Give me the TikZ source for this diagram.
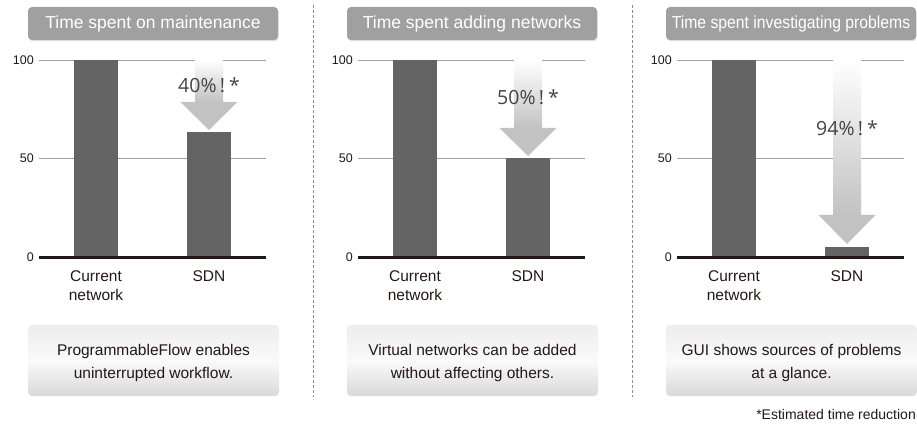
\documentclass[tikz,border=0pt]{standalone}
\usepackage{fontspec}
\setmainfont{Liberation Sans}
\newfontfamily\pctfont{Open Sans}
\usetikzlibrary{shadows}
\definecolor{barc}{HTML}{646464}
\definecolor{basec}{HTML}{231815}
\definecolor{gridc}{HTML}{A0A0A0}
\definecolor{titlec}{HTML}{A0A0A0}
\definecolor{arrowc}{HTML}{C1C2C1}
\definecolor{pctc}{HTML}{444444}
\definecolor{txtc}{HTML}{231815}
\tikzset{
  titlebox/.style={fill=titlec, rounded corners=4pt, minimum width=250pt, minimum height=33pt,
    text=white, font=\fontsize{17.5}{20}\selectfont, inner sep=0pt,
    drop shadow={opacity=0.25, shadow xshift=0.6pt, shadow yshift=-1.2pt}},
  axlab/.style={anchor=east, font=\fontsize{12.5}{14}\selectfont, text=txtc, inner sep=0pt},
  catlab/.style={align=center, font=\fontsize{15.5}{19}\selectfont, text=txtc, inner sep=0pt},
  notebox/.style={rounded corners=4pt, minimum width=251pt, minimum height=71pt, inner sep=0pt,
    top color=black!7, bottom color=black!15, middle color=black!2, draw=none},
  notetext/.style={align=center, font=\fontsize{15.5}{23}\selectfont, text=txtc, inner sep=0pt},
  pcttext/.style={font=\pctfont\fontsize{19.5}{21}\selectfont, text=pctc, inner sep=0pt},
  gridline/.style={draw=gridc, line width=0.9pt},
  baseline/.style={draw=basec, line width=3pt},
  sep/.style={draw=black!45, line width=0.8pt, dash pattern=on 3pt off 2pt},
}
% #1 xoffset, #2 id, #3 title, #4 sdn bar top, #5 head start, #6 tip, #7 pct, #8 pct y, #9 note
\newcommand\drawpanel[9]{%
  \begin{scope}[xshift=#1pt]
    \node[titlebox] (title#2) at (153,23.5) {#3};
    \draw[gridline] (39,60) -- (266,60);
    \draw[gridline] (39,158) -- (266,158);
    \node[axlab] (y100#2) at (34,60) {100};
    \node[axlab] (y50#2) at (34,158) {50};
    \node[axlab] (y0#2) at (34,257) {0};
    \fill[barc] (74,60) rectangle (118,257);
    \fill[barc] (187,#4) rectangle (231,257);
    \draw[baseline] (39,257) -- (266,257);
    \shade[top color=white, bottom color=arrowc] (195,60) rectangle (223,#5);
    \fill[arrowc] (180.5,#5) -- (237.5,#5) -- (209,#6) -- cycle;
    \node[pcttext] (pct#2) at (209,#8) {#7\,!\hspace{4pt}*};
    \node[catlab] (cur#2) at (96,285.5) {Current\\network};
    \node[catlab, anchor=base] (sdn#2) at (209,281.5) {SDN};
    \node[notebox] (box#2) at (153.5,360.5) {};
    \node[notetext] (note#2) at (153.5,363) {#9};
  \end{scope}%
}
\begin{document}
\begin{tikzpicture}[x=1pt, y=-1pt]
  \useasboundingbox (0,0) rectangle (917,430);
  \drawpanel{0}{a}{Time spent on maintenance}{132}{102}{130}{40\%}{85}{ProgrammableFlow enables\\uninterrupted workflow.}
  \drawpanel{319}{b}{Time spent adding networks}{158}{128}{156}{50\%}{97}{Virtual networks can be added\\without affecting others.}
  \drawpanel{638}{c}{\scalebox{0.9}[1]{Time spent investigating problems}}{247}{215}{244}{94\%}{128}{GUI shows sources of problems\\at a glance.}
  \coordinate (s1t) at (313,5);
  \coordinate (s1b) at (313,397);
  \coordinate (s2t) at (632,5);
  \coordinate (s2b) at (632,397);
  \draw[sep] (s1t) -- (s1b);
  \draw[sep] (s2t) -- (s2b);
  \node[anchor=east, font=\fontsize{14}{16}\selectfont, text=txtc, inner sep=0pt] (foot) at (916,414) {*Estimated time reduction};
\end{tikzpicture}
\end{document}
